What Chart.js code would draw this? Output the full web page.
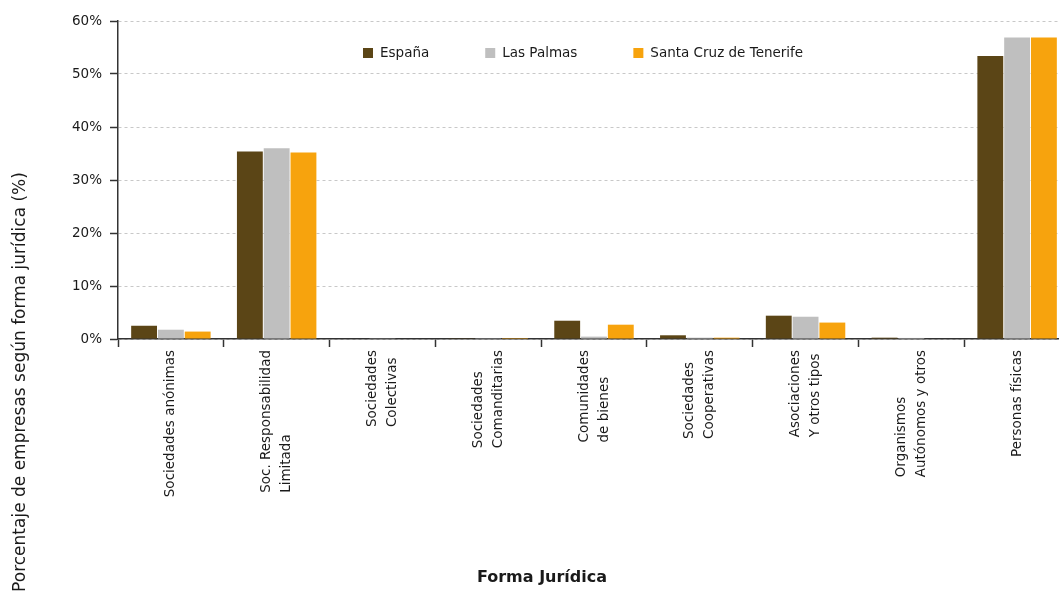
<!DOCTYPE html>
<html>
<head>
<meta charset="utf-8">
<script src="https://cdn.jsdelivr.net/npm/chart.js@4"></script>
<style>
  html, body { margin: 0; padding: 0; background: #fff; overflow: hidden; }
  #wrap { position: absolute; left: 0; top: 0; width: 1070px; height: 595px; }
</style>
</head>
<body>
<div id="wrap"><canvas id="chart" width="1070" height="595"></canvas></div>
<script>
// Datos
const categories = [
  ['Sociedades anónimas'],
  ['Soc. Responsabilidad', 'Limitada'],
  ['Sociedades', 'Colectivas'],
  ['Sociedades', 'Comanditarias'],
  ['Comunidades', 'de bienes'],
  ['Sociedades', 'Cooperativas'],
  ['Asociaciones', 'Y otros tipos'],
  ['Organismos', 'Autónomos y otros'],
  ['Personas físicas']
];
const espana = [2.5, 35.4, 0.1, 0.05, 3.45, 0.7, 4.4, 0.25, 53.4];
const lasPalmas = [1.75, 36.0, 0.05, 0.03, 0.45, 0.25, 4.2, 0.2, 56.9];
const santaCruz = [1.4, 35.2, 0.1, 0.01, 2.7, 0.25, 3.1, 0.1, 56.9];
const yTicks = [0, 10, 20, 30, 40, 50, 60];

const FONT = '"DejaVu Sans", Verdana, sans-serif';
const TEXT = '#1a1a1a';

// Etiquetas del eje X, títulos y leyenda dibujados a mano
const extras = {
  id: 'extras',
  afterDraw(chart) {
    const { ctx, chartArea } = chart;
    const x = chart.scales.x;
    ctx.save();
    ctx.fillStyle = TEXT;

    // etiquetas de categorías (giradas, alineadas al inicio)
    ctx.font = '13.5px ' + FONT;
    const lh = 20;
    categories.forEach((lines, i) => {
      const px = x.getPixelForValue(i);
      const maxW = Math.max(...lines.map(l => ctx.measureText(l).width));
      const yStart = chartArea.bottom + 11 + maxW;
      lines.forEach((l, j) => {
        ctx.save();
        ctx.translate(px + (j - (lines.length - 1) / 2) * lh, yStart);
        ctx.rotate(-Math.PI / 2);
        ctx.textAlign = 'left';
        ctx.textBaseline = 'middle';
        ctx.fillText(l, 0, 0);
        ctx.restore();
      });
    });

    // título del eje Y
    ctx.font = '17px ' + FONT;
    ctx.save();
    ctx.translate(21, 382);
    ctx.rotate(-Math.PI / 2);
    ctx.textAlign = 'center';
    ctx.textBaseline = 'middle';
    ctx.fillText('Porcentaje de empresas según forma jurídica (%)', 0, 0);
    ctx.restore();

    // título del eje X
    ctx.font = 'bold 16px ' + FONT;
    ctx.textAlign = 'center';
    ctx.textBaseline = 'middle';
    ctx.fillText('Forma Jurídica', 542, 578);

    // leyenda
    ctx.font = '13.5px ' + FONT;
    ctx.textAlign = 'left';
    ctx.textBaseline = 'middle';
    let lx = 363;
    const ly = 53;
    chart.data.datasets.forEach(ds => {
      ctx.fillStyle = ds.backgroundColor;
      ctx.fillRect(lx, ly - 5, 10, 10);
      ctx.fillStyle = TEXT;
      ctx.fillText(ds.label, lx + 17, ly);
      lx += 17 + ctx.measureText(ds.label).width + 56;
    });
    ctx.restore();
  }
};

const ctx = document.getElementById('chart').getContext('2d');
const chart = new Chart(ctx, {
  type: 'bar',
  data: {
    labels: categories.map(c => c.join(' ')),
    datasets: [
      { label: 'España', data: espana, backgroundColor: '#5B4516' },
      { label: 'Las Palmas', data: lasPalmas, backgroundColor: '#BFBFBF' },
      { label: 'Santa Cruz de Tenerife', data: santaCruz, backgroundColor: '#F7A30D' }
    ]
  },
  options: {
    responsive: false,
    animation: false,
    devicePixelRatio: 1,
    layout: { padding: { top: 21, left: 0, right: 0, bottom: 0 } },
    datasets: { bar: { categoryPercentage: 0.76, barPercentage: 0.965 } },
    plugins: {
      legend: { display: false },
      tooltip: { enabled: false }
    },
    scales: {
      x: {
        afterFit(scale) { scale.height = 256; },
        ticks: { display: false },
        grid: {
          offset: true,
          drawOnChartArea: false,
          drawTicks: true,
          tickLength: 8,
          tickColor: '#333',
          tickWidth: 1.5
        },
        border: { display: true, color: '#333', width: 1.5 }
      },
      y: {
        min: 0,
        max: 60,
        afterFit(scale) { scale.width = 118; },
        afterBuildTicks(scale) { scale.ticks = yTicks.map(v => ({ value: v })); },
        ticks: {
          color: TEXT,
          font: { family: FONT, size: 13.5 },
          padding: 8,
          callback: v => v + '%'
        },
        grid: {
          color: '#C8C8C8',
          lineWidth: 1,
          drawTicks: true,
          tickLength: 8,
          tickColor: '#333',
          tickWidth: 1.5,
          tickBorderDash: []
        },
        border: { display: true, color: '#333', width: 1.5, dash: [3, 3] }
      }
    }
  },
  plugins: [extras]
});
</script>
</body>
</html>
